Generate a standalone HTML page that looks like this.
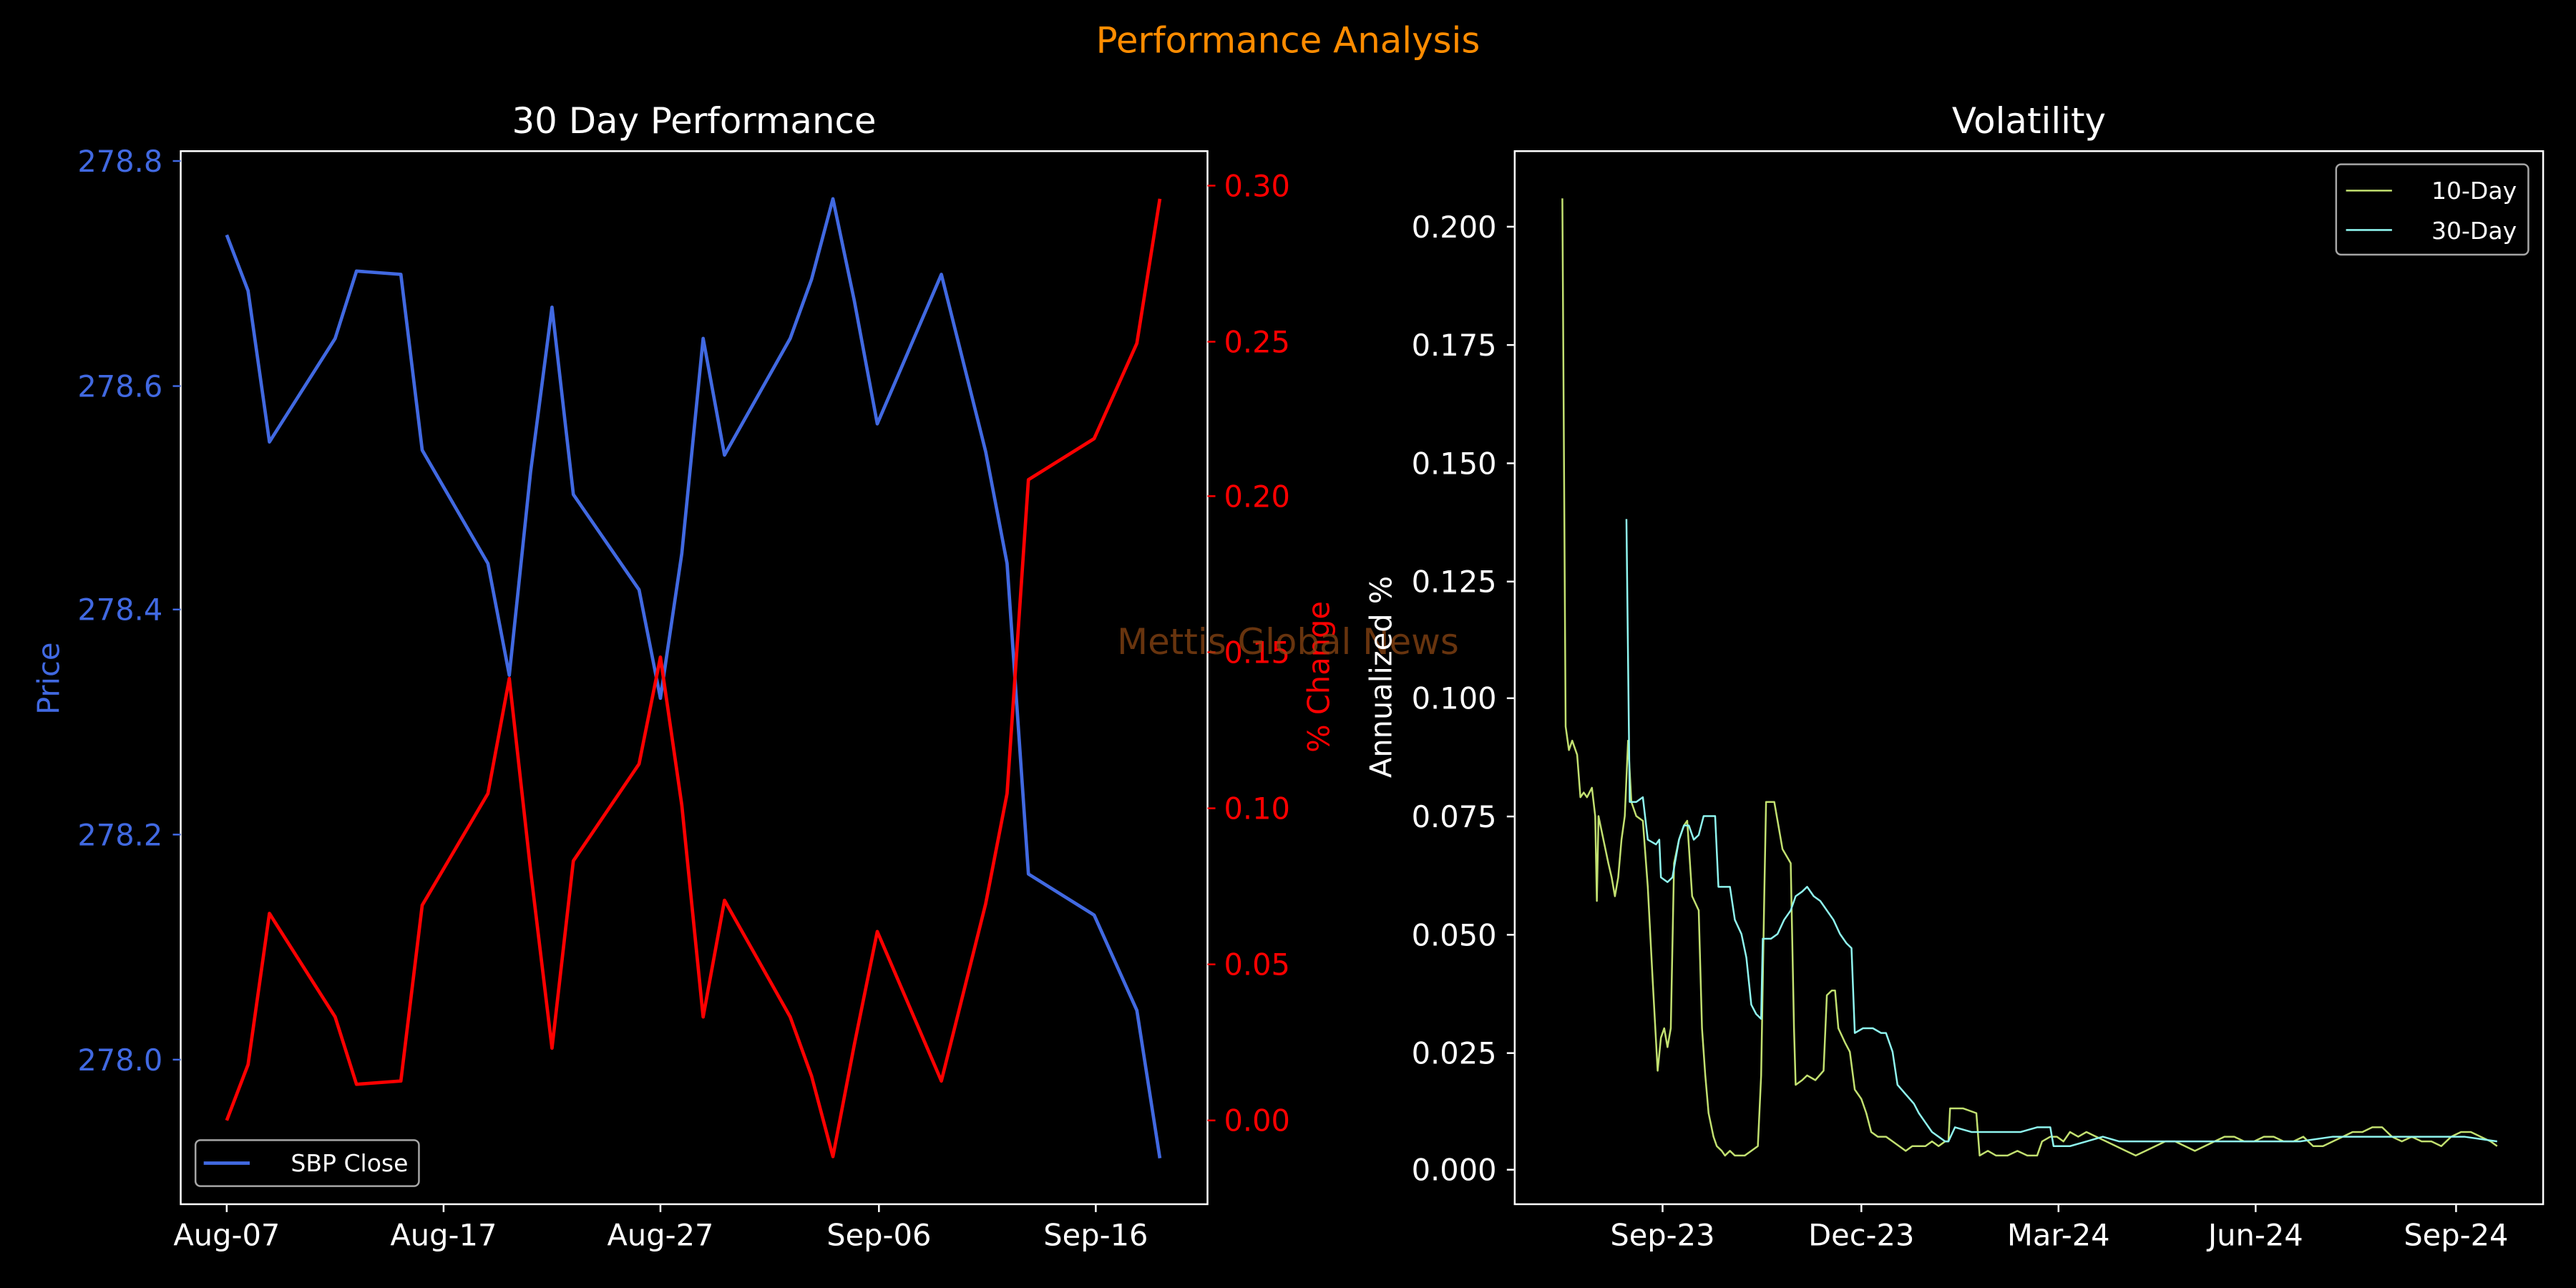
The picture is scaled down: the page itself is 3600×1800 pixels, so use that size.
<!DOCTYPE html>
<html><head><meta charset="utf-8"><style>
html,body{margin:0;padding:0;background:#000;}
svg{display:block;}
text{font-family:"DejaVu Sans","Liberation Sans",sans-serif;}
</style></head><body>
<svg width="3600" height="1800" viewBox="0 0 3600 1800" xmlns="http://www.w3.org/2000/svg">
<rect width="3600" height="1800" fill="#000"/>
<g transform="scale(2.29592)">
<text x="784" y="32" font-size="21.7" fill="#ff8c00" text-anchor="middle">Performance Analysis</text>

<!-- LEFT AXES -->
<text x="422.5" y="81" font-size="21.7" fill="#fff" text-anchor="middle">30 Day Performance</text>
<polyline fill="none" stroke="#4169e1" stroke-width="2.04" stroke-linejoin="round" points="138,143 151,177 164,269 204,206 217,165 244,167 257,274 297,343 310,411 323,287 336,187 349,301 389,359 402,425 415,337 428,206 441,277 481,206 494,170 507,121 520,183 534,258 573,167 600,275 613,343 626,532 666,557 692,615 706,705"/>
<polyline fill="none" stroke="#ff0000" stroke-width="2.04" stroke-linejoin="round" points="138,682 151,648 164,556 204,619 217,660 244,658 257,551 297,483 310,413 323,530 336,638 349,524 389,465 402,400 415,490 428,619 441,548 481,619 494,655 507,704 520,636 534,567 573,658 600,550 613,483 626,292 666,267 692,209 706,121"/>
<rect x="110" y="92" width="625" height="641" fill="none" stroke="#fff" stroke-width="1.09"/>
<g stroke="#4169e1" stroke-width="1.09">
<line x1="105.2" x2="110" y1="98" y2="98"/><line x1="105.2" x2="110" y1="235" y2="235"/><line x1="105.2" x2="110" y1="371" y2="371"/><line x1="105.2" x2="110" y1="508" y2="508"/><line x1="105.2" x2="110" y1="645" y2="645"/>
</g>
<g font-size="18.1" fill="#4169e1" text-anchor="end">
<text x="99" y="104.5">278.8</text><text x="99" y="241.5">278.6</text><text x="99" y="377.5">278.4</text><text x="99" y="514.5">278.2</text><text x="99" y="651.5">278.0</text>
</g>
<text transform="translate(36,413) rotate(-90)" font-size="18.1" fill="#4169e1" text-anchor="middle">Price</text>
<g stroke="#ff0000" stroke-width="1.09">
<line x1="735" x2="739.8" y1="113" y2="113"/><line x1="735" x2="739.8" y1="208" y2="208"/><line x1="735" x2="739.8" y1="302" y2="302"/><line x1="735" x2="739.8" y1="397" y2="397"/><line x1="735" x2="739.8" y1="492" y2="492"/><line x1="735" x2="739.8" y1="587" y2="587"/><line x1="735" x2="739.8" y1="682" y2="682"/>
</g>
<g font-size="18.1" fill="#ff0000">
<text x="745" y="119.5">0.30</text><text x="745" y="214.5">0.25</text><text x="745" y="308.5">0.20</text><text x="745" y="403.5">0.15</text><text x="745" y="498.5">0.10</text><text x="745" y="593.5">0.05</text><text x="745" y="688.5">0.00</text>
</g>
<text transform="translate(809,412) rotate(-90)" font-size="18.1" fill="#ff0000" text-anchor="middle">% Change</text>
<g stroke="#fff" stroke-width="1.09">
<line x1="138" x2="138" y1="733" y2="737.8"/><line x1="270" x2="270" y1="733" y2="737.8"/><line x1="402" x2="402" y1="733" y2="737.8"/><line x1="535" x2="535" y1="733" y2="737.8"/><line x1="667" x2="667" y1="733" y2="737.8"/>
</g>
<g font-size="18.1" fill="#fff" text-anchor="middle">
<text x="138" y="758">Aug-07</text><text x="270" y="758">Aug-17</text><text x="402" y="758">Aug-27</text><text x="535" y="758">Sep-06</text><text x="667" y="758">Sep-16</text>
</g>
<rect x="119" y="694" width="136" height="28" rx="3" fill="#000" stroke="#a6a6a6" stroke-width="1.09"/>
<line x1="124" x2="152" y1="708" y2="708" stroke="#4169e1" stroke-width="2.04"/>
<text x="177" y="713" font-size="14.4" fill="#fff">SBP Close</text>

<text x="784" y="398" font-size="21.7" fill="#8b4513" fill-opacity="0.75" text-anchor="middle">Mettis Global News</text>

<!-- RIGHT AXES -->
<text x="1235" y="81" font-size="21.7" fill="#fff" text-anchor="middle">Volatility</text>
<g transform="translate(0,712) scale(1,-2870)">
<polyline fill="none" stroke="#c2e070" stroke-width="2.5" vector-effect="non-scaling-stroke" stroke-linejoin="round" points="951,0.206 953,0.094 955,0.089 957,0.091 960,0.088 962,0.079 964,0.080 966,0.079 969,0.081 971,0.075 972,0.057 973,0.075 976,0.070 979,0.065 981,0.062 983,0.058 985,0.062 987,0.070 989,0.075 991,0.091 993,0.078 996,0.075 1000,0.074 1003,0.060 1006,0.040 1009,0.021 1011,0.028 1013,0.030 1015,0.026 1017,0.030 1019,0.065 1022,0.070 1025,0.073 1027,0.074 1030,0.058 1034,0.055 1036,0.030 1038,0.020 1040,0.012 1043,0.007 1045,0.005 1048,0.004 1050,0.003 1053,0.004 1056,0.003 1062,0.003 1066,0.004 1070,0.005 1072,0.020 1074,0.060 1075,0.078 1080,0.078 1082,0.074 1085,0.068 1090,0.065 1092,0.030 1093,0.018 1097,0.019 1100,0.020 1105,0.019 1110,0.021 1112,0.037 1115,0.038 1117,0.038 1119,0.030 1123,0.027 1126,0.025 1129,0.017 1133,0.015 1136,0.012 1139,0.008 1143,0.007 1148,0.007 1152,0.006 1156,0.005 1160,0.004 1164,0.005 1168,0.005 1172,0.005 1176,0.006 1180,0.005 1184,0.006 1186,0.006 1187,0.013 1195,0.013 1203,0.012 1205,0.003 1210,0.004 1215,0.003 1222,0.003 1228,0.004 1234,0.003 1240,0.003 1243,0.006 1248,0.007 1252,0.007 1256,0.006 1260,0.008 1265,0.007 1270,0.008 1276,0.007 1282,0.006 1288,0.005 1294,0.004 1300,0.003 1306,0.004 1312,0.005 1318,0.006 1324,0.006 1330,0.005 1336,0.004 1342,0.005 1348,0.006 1354,0.007 1360,0.007 1366,0.006 1372,0.006 1378,0.007 1384,0.007 1390,0.006 1396,0.006 1402,0.007 1408,0.005 1414,0.005 1420,0.006 1426,0.007 1432,0.008 1438,0.008 1444,0.009 1450,0.009 1456,0.007 1462,0.006 1468,0.007 1474,0.006 1480,0.006 1486,0.005 1492,0.007 1498,0.008 1504,0.008 1510,0.007 1516,0.006 1520,0.005"/>
<polyline fill="none" stroke="#8ff5ef" stroke-width="2.5" vector-effect="non-scaling-stroke" stroke-linejoin="round" points="990,0.138 992,0.078 996,0.078 1000,0.079 1003,0.070 1008,0.069 1010,0.070 1011,0.062 1015,0.061 1018,0.062 1020,0.066 1022,0.070 1025,0.073 1028,0.073 1031,0.070 1034,0.071 1037,0.075 1040,0.075 1044,0.075 1046,0.060 1050,0.060 1053,0.060 1056,0.053 1060,0.050 1063,0.045 1066,0.035 1069,0.033 1072,0.032 1073,0.049 1078,0.049 1082,0.050 1086,0.053 1090,0.055 1093,0.058 1097,0.059 1100,0.060 1104,0.058 1108,0.057 1112,0.055 1116,0.053 1120,0.050 1124,0.048 1127,0.047 1129,0.029 1134,0.030 1140,0.030 1145,0.029 1148,0.029 1152,0.025 1155,0.018 1160,0.016 1165,0.014 1168,0.012 1172,0.010 1176,0.008 1180,0.007 1184,0.006 1186,0.006 1190,0.009 1200,0.008 1210,0.008 1220,0.008 1230,0.008 1240,0.009 1248,0.009 1250,0.005 1260,0.005 1270,0.006 1280,0.007 1290,0.006 1300,0.006 1320,0.006 1340,0.006 1360,0.006 1380,0.006 1400,0.006 1420,0.007 1440,0.007 1460,0.007 1480,0.007 1500,0.007 1520,0.006"/>
</g>
<rect x="922" y="92" width="626" height="641" fill="none" stroke="#fff" stroke-width="1.09"/>
<g stroke="#fff" stroke-width="1.09">
<line x1="917.2" x2="922" y1="138" y2="138"/><line x1="917.2" x2="922" y1="210" y2="210"/><line x1="917.2" x2="922" y1="282" y2="282"/><line x1="917.2" x2="922" y1="354" y2="354"/><line x1="917.2" x2="922" y1="425" y2="425"/><line x1="917.2" x2="922" y1="497" y2="497"/><line x1="917.2" x2="922" y1="569" y2="569"/><line x1="917.2" x2="922" y1="641" y2="641"/><line x1="917.2" x2="922" y1="712" y2="712"/>
<line x1="1012" x2="1012" y1="733" y2="737.8"/><line x1="1133" x2="1133" y1="733" y2="737.8"/><line x1="1253" x2="1253" y1="733" y2="737.8"/><line x1="1373" x2="1373" y1="733" y2="737.8"/><line x1="1495" x2="1495" y1="733" y2="737.8"/>
</g>
<g font-size="18.1" fill="#fff" text-anchor="end">
<text x="911" y="144.5">0.200</text><text x="911" y="216.5">0.175</text><text x="911" y="288.5">0.150</text><text x="911" y="360.5">0.125</text><text x="911" y="431.5">0.100</text><text x="911" y="503.5">0.075</text><text x="911" y="575.5">0.050</text><text x="911" y="647.5">0.025</text><text x="911" y="718.5">0.000</text>
</g>
<g font-size="18.1" fill="#fff" text-anchor="middle">
<text x="1012" y="758">Sep-23</text><text x="1133" y="758">Dec-23</text><text x="1253" y="758">Mar-24</text><text x="1373" y="758">Jun-24</text><text x="1495" y="758">Sep-24</text>
</g>
<text transform="translate(847,412) rotate(-90)" font-size="18.1" fill="#fff" text-anchor="middle">Annualized %</text>
<rect x="1422" y="100" width="117" height="55" rx="3" fill="#000" stroke="#a6a6a6" stroke-width="1.09"/>
<line x1="1428" x2="1456" y1="116" y2="116" stroke="#c2e070" stroke-width="1.1"/>
<line x1="1428" x2="1456" y1="140" y2="140" stroke="#8ff5ef" stroke-width="1.1"/>
<text x="1480" y="121" font-size="14.4" fill="#fff">10-Day</text>
<text x="1480" y="145.5" font-size="14.4" fill="#fff">30-Day</text>
</g>
</svg>
</body></html>
